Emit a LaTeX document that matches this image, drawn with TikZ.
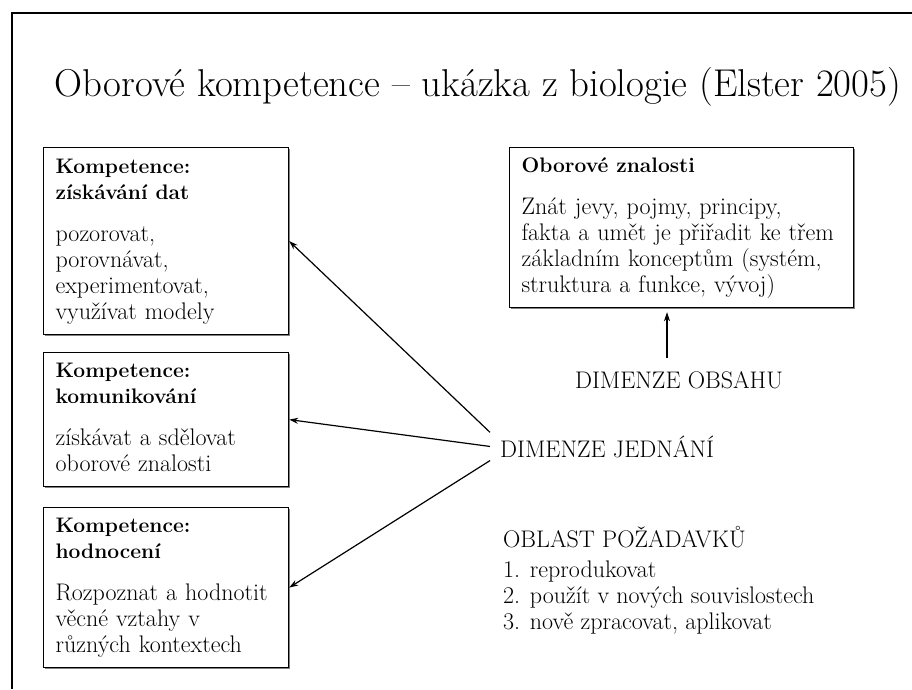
\documentclass[tikz,border=0pt]{standalone}
\usetikzlibrary{arrows.meta,shadows}
\newcommand{\khead}[1]{{\fontsize{21}{26}\selectfont\bfseries #1}}
\begin{document}
\begin{tikzpicture}[x=1pt,y=-1pt,>={Stealth[length=9pt,width=6pt]},
        every node/.style={font=\fontsize{24}{26}\selectfont},
        kbox/.style={draw,line width=1.2pt,fill=white,anchor=north west,align=left,
            inner xsep=12pt,inner ysep=0pt,
            drop shadow={shadow xshift=1.5pt,shadow yshift=-1.5pt,fill=black!50,opacity=1}},
        dim/.style={inner xsep=10pt,inner ysep=3pt}]
                \useasboundingbox (0,0) rectangle (912,689);
                \draw [line width=2pt] (12,689) -- (12,13) -- (912,13);

                \node [anchor=base,font=\fontsize{38.8}{46}\selectfont] (title) at (478,96) {Oborové kompetence – ukázka z biologie (Elster 2005)};

                \node [kbox,text width=221pt,minimum height=187pt] (data) at (43,147)
                    {\strut\khead{Kompetence:}\\\khead{získávání dat}\\[16pt]pozorovat,\\porovnávat,\\experimentovat,\\využívat modely\strut};
                \node [kbox,text width=221pt,minimum height=134pt] (komun) at (43,352)
                    {\strut\khead{Kompetence:}\\\khead{komunikování}\\[16pt]získávat a sdělovat\\oborové znalosti\strut};
                \node [kbox,text width=221pt,minimum height=160pt] (hodnot) at (43,507)
                    {\strut\khead{Kompetence:}\\\khead{hodnocení}\\[16pt]Rozpoznat a hodnotit\\věcné vztahy v\\různých kontextech\strut};
                \node [kbox,text width=320pt,minimum height=160pt] (znalosti) at (509,147)
                    {\strut\khead{Oborové znalosti}\\[16pt]Znát jevy, pojmy, principy,\\fakta a umět je přiřadit ke třem\\základním konceptům (systém,\\struktura a funkce, vývoj)\strut};

                \node [dim,anchor=base] (obsah) at (679,388) {DIMENZE OBSAHU};
                \node [dim,anchor=base west] (jednani) at (490,457) {DIMENZE JEDNÁNÍ};
                \node [anchor=north west,inner sep=0pt,align=left] (oblast) at (503,526)
                    {\strut OBLAST POŽADAVKŮ\\[4pt]1. reprodukovat\\2. použít v nových souvislostech\\3. nově zpracovat, aplikovat};

                \path [->,line width=1.2pt] (jednani.north west) edge (data.east)
                                (jednani.west) edge (komun.east)
                                (jednani.south west) edge (hodnot.east)
                          ([xshift=-12pt,yshift=10pt]obsah.north) edge [shorten >=4pt] ([xshift=-12pt]obsah.north |- znalosti.south)
                ;
            \end{tikzpicture}
\end{document}
